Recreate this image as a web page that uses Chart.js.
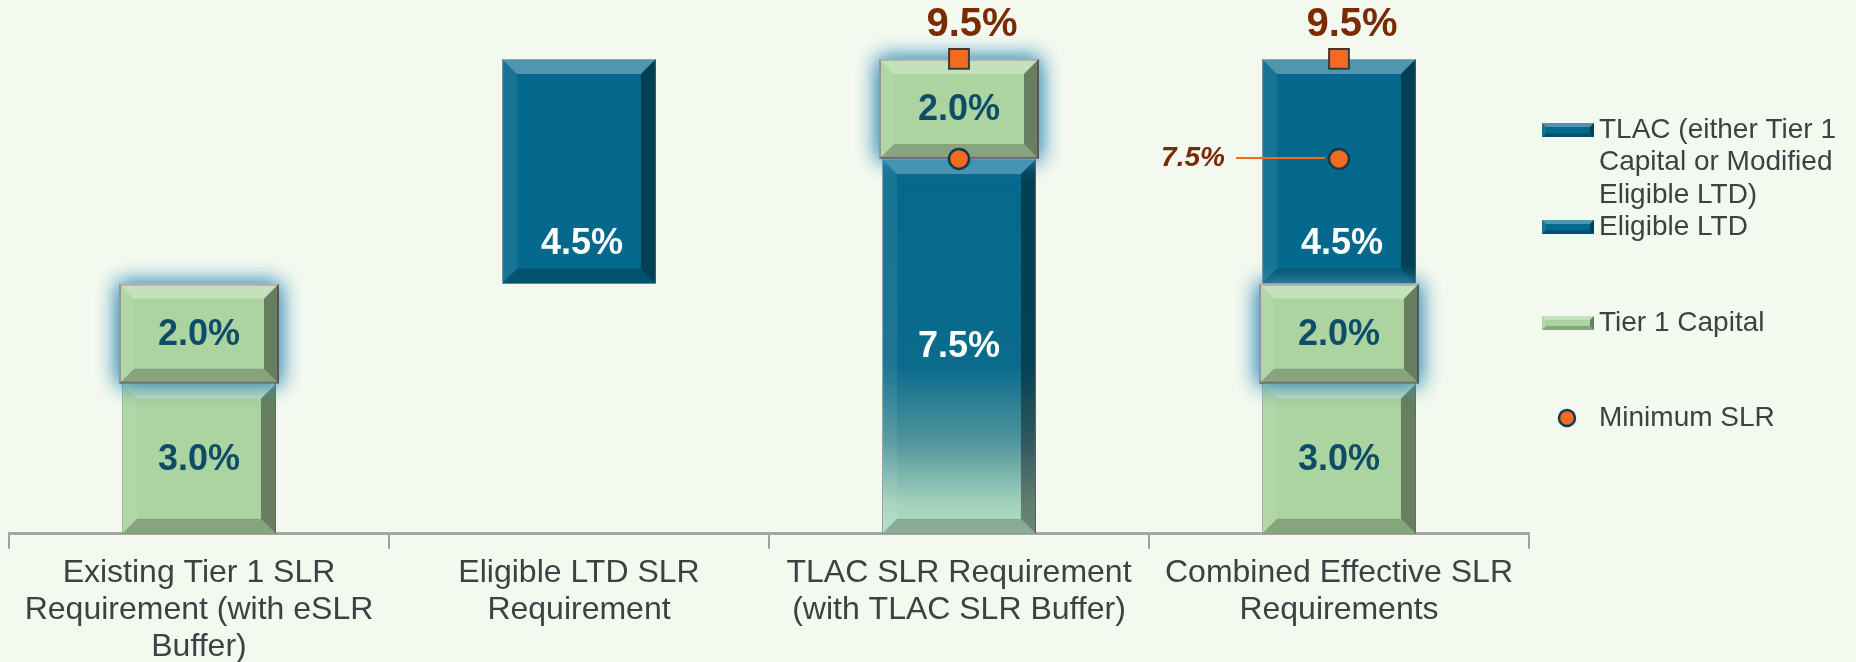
<!DOCTYPE html>
<html>
<head>
<meta charset="utf-8">
<script src="https://cdn.jsdelivr.net/npm/chart.js@4/dist/chart.umd.min.js"></script>
<style>
  html, body { margin: 0; padding: 0; background: #f4f9f0; }
  canvas { display: block; }
</style>
</head>
<body>
<canvas id="slr-chart" width="1856" height="662"></canvas>
<script>
const categories = [
    ['Existing Tier 1 SLR', 'Requirement (with eSLR', 'Buffer)'],
    ['Eligible LTD SLR', 'Requirement'],
    ['TLAC SLR Requirement', '(with TLAC SLR Buffer)'],
    ['Combined Effective SLR', 'Requirements']
]
const tier1Core = [3.0, null, null, 3.0]
const tier1Buffer = [2.0, null, 2.0, 2.0]
const tier1BufferBase = [3.0, null, 7.5, 3.0]
const eligibleLtd = [null, 4.5, null, 4.5]
const eligibleLtdBase = [null, 5.0, null, 5.0]
const tlac = [null, null, 7.5, null]
const minimumSlr = [null, null, 7.5, 7.5]
const totalSlr = [null, null, 9.5, 9.5]
const legendLabels = [
    ['TLAC (either Tier 1', 'Capital or Modified', 'Eligible LTD)'],
    ['Eligible LTD'],
    ['Tier 1 Capital'],
    ['Minimum SLR']
]

const BLUE = '#05698d'
const GREEN = '#acd4a0'
const ORANGE = '#f26b21'
const BROWN = '#7a2b02'
const TEAL_TEXT = '#0f4c68'
const GRAY_TEXT = '#3e4144'
const FONT = '"Liberation Sans", Arial, sans-serif'

function floating(values, bases){
    return values.map((v, i) => v == null ? null : [bases ? bases[i] : 0, (bases ? bases[i] : 0) + v])
}

function fmt(v){
    return v.toFixed(1) + '%'
}

function bevel(ctx, l, t, r, b, w){
    const h = Math.min(w, (b - t) / 2, (r - l) / 2)
    const sides = [
        [[l, t], [r, t], [r - h, t + h], [l + h, t + h], 'rgba(255,255,255,0.30)'],
        [[l, t], [l + h, t + h], [l + h, b - h], [l, b], 'rgba(255,255,255,0.08)'],
        [[r, t], [r, b], [r - h, b - h], [r - h, t + h], 'rgba(0,0,0,0.40)'],
        [[l, b], [l + h, b - h], [r - h, b - h], [r, b], 'rgba(0,0,0,0.22)']
    ]
    ctx.save()
    sides.forEach(s => {
        ctx.beginPath()
        ctx.moveTo(s[0][0], s[0][1])
        for (let k = 1; k < 4; k++) ctx.lineTo(s[k][0], s[k][1])
        ctx.closePath()
        ctx.fillStyle = s[4]
        ctx.fill()
    })
    ctx.restore()
}

function tlacGradient(context){
    const chart = context.chart
    const area = chart.chartArea
    if (!area) return BLUE
    const y = chart.scales.y
    const g = chart.ctx.createLinearGradient(0, y.getPixelForValue(7.5), 0, y.getPixelForValue(0))
    g.addColorStop(0, BLUE)
    g.addColorStop(0.55, '#0a6b8c')
    g.addColorStop(0.75, '#4f939c')
    g.addColorStop(0.92, '#a3d2bb')
    g.addColorStop(1, '#b6dec4')
    return g
}

const effects = {
    id: 'effects',
    beforeDatasetDraw(chart, args){
        const ds = chart.data.datasets[args.index]
        if (!ds.glow) return
        // halo behind the buffer boxes (bar drawing clips its own shadow)
        const ctx = chart.ctx
        ctx.save()
        ctx.shadowColor = 'rgba(60,145,185,0.9)'
        ctx.shadowBlur = 20
        ctx.fillStyle = GREEN
        args.meta.data.forEach((el, i) => {
            if (ds.data[i] == null) return
            const p = el.getProps(['x', 'y', 'base', 'width'], true)
            for (let k = 0; k < 2; k++){
                ctx.fillRect(p.x - p.width / 2 - 3, Math.min(p.y, p.base), p.width + 6, Math.abs(p.base - p.y))
            }
        })
        ctx.restore()
    },
    afterDatasetDraw(chart, args){
        const ds = chart.data.datasets[args.index]
        const ctx = chart.ctx
        if (ds.type == 'line') return
        args.meta.data.forEach((el, i) => {
            if (ds.data[i] == null) return
            const p = el.getProps(['x', 'y', 'base', 'width'], true)
            const grow = ds.glow ? 3 : 0
            if (grow){
                ctx.save()
                ctx.fillStyle = GREEN
                ctx.fillRect(p.x - p.width / 2 - grow, Math.min(p.y, p.base), p.width + 2 * grow, Math.abs(p.base - p.y))
                ctx.strokeStyle = '#8e8a92'
                ctx.lineWidth = 2
                ctx.strokeRect(p.x - p.width / 2 - grow + 1, Math.min(p.y, p.base) + 1, p.width + 2 * grow - 2, Math.abs(p.base - p.y) - 2)
                ctx.restore()
            }
            bevel(ctx, p.x - p.width / 2 - grow, Math.min(p.y, p.base), p.x + p.width / 2 + grow, Math.max(p.y, p.base), 15)
        })
    },
    afterDatasetsDraw(chart){
        const ctx = chart.ctx
        ctx.save()
        ctx.textAlign = 'center'
        ctx.textBaseline = 'middle'
        chart.data.datasets.forEach((ds, di) => {
            const meta = chart.getDatasetMeta(di)
            meta.data.forEach((el, i) => {
                if (ds.data[i] == null) return
                const p = el.getProps(['x', 'y', 'base'], true)
                if (ds.labelMode == 'center'){
                    ctx.font = 'bold 36px ' + FONT
                    ctx.fillStyle = ds.labelColor
                    ctx.fillText(fmt(ds.values[i]), p.x, (p.y + p.base) / 2 + 1)
                } else if (ds.labelMode == 'base'){
                    ctx.font = 'bold 36px ' + FONT
                    ctx.fillStyle = ds.labelColor
                    ctx.fillText(fmt(ds.values[i]), p.x + 3, p.base - 40)
                } else if (ds.labelMode == 'above'){
                    ctx.font = 'bold 40px ' + FONT
                    ctx.fillStyle = BROWN
                    ctx.fillText(fmt(ds.data[i]), p.x + 13, p.y - 34)
                } else if (ds.labelMode == 'leader' && i == 3){
                    ctx.strokeStyle = ORANGE
                    ctx.lineWidth = 2
                    ctx.beginPath()
                    ctx.moveTo(p.x - 103, p.y - 1)
                    ctx.lineTo(p.x - 14, p.y - 1)
                    ctx.stroke()
                    ctx.font = 'italic bold 28px ' + FONT
                    ctx.fillStyle = BROWN
                    ctx.fillText(fmt(ds.data[i]), p.x - 146, p.y - 1)
                }
            })
        })
        ctx.restore()
    },
    afterDraw(chart){
        const ctx = chart.ctx
        const sx = 1542, tx = 1599
        const rows = [
            {y: 130, color: BLUE, lines: legendLabels[0]},
            {y: 227, color: BLUE, lines: legendLabels[1]},
            {y: 323, color: GREEN, lines: legendLabels[2]},
            {y: 418, dot: true, lines: legendLabels[3]}
        ]
        ctx.save()
        ctx.font = '28px ' + FONT
        ctx.textBaseline = 'middle'
        ctx.textAlign = 'left'
        rows.forEach(r => {
            if (r.dot){
                ctx.beginPath()
                ctx.arc(sx + 25, r.y, 8, 0, Math.PI * 2)
                ctx.fillStyle = ORANGE
                ctx.fill()
                ctx.lineWidth = 2.5
                ctx.strokeStyle = '#163a4a'
                ctx.stroke()
            } else {
                ctx.fillStyle = r.color
                ctx.fillRect(sx, r.y - 7, 52, 14)
                bevel(ctx, sx, r.y - 7, sx + 52, r.y + 7, 4)
            }
            ctx.fillStyle = GRAY_TEXT
            r.lines.forEach((line, k) => ctx.fillText(line, tx, r.y + k * 32.5))
        })
        ctx.restore()
    }
}

const datasets = [
    {
        type: 'line', label: 'Total SLR', data: totalSlr, order: 0,
        showLine: false, pointStyle: 'rect', pointRadius: 14, pointHoverRadius: 14,
        pointBackgroundColor: ORANGE, pointBorderColor: '#3a3a3a', pointBorderWidth: 2,
        labelMode: 'above'
    },
    {
        type: 'line', label: 'Minimum SLR', data: minimumSlr, order: 0,
        showLine: false, pointStyle: 'circle', pointRadius: 10, pointHoverRadius: 10,
        pointBackgroundColor: ORANGE, pointBorderColor: '#163a4a', pointBorderWidth: 2.5,
        labelMode: 'leader'
    },
    {
        label: 'Tier 1 Capital buffer', data: floating(tier1Buffer, tier1BufferBase), values: tier1Buffer,
        order: 1, backgroundColor: GREEN, borderColor: '#8e8a92', borderWidth: 2,
        glow: true, labelMode: 'center', labelColor: TEAL_TEXT
    },
    {
        label: 'Tier 1 Capital', data: floating(tier1Core), values: tier1Core,
        order: 2, backgroundColor: GREEN, borderColor: '#8fa58c', borderWidth: 1,
        labelMode: 'center', labelColor: TEAL_TEXT
    },
    {
        label: 'Eligible LTD', data: floating(eligibleLtd, eligibleLtdBase), values: eligibleLtd,
        order: 2, backgroundColor: BLUE, borderColor: '#5f7f88', borderWidth: 1,
        labelMode: 'base', labelColor: '#ffffff'
    },
    {
        label: 'TLAC (either Tier 1 Capital or Modified Eligible LTD)', data: floating(tlac), values: tlac,
        order: 2, backgroundColor: tlacGradient, borderColor: '#7f8f90', borderWidth: 1,
        labelMode: 'center', labelColor: '#ffffff'
    }
]

const ctx = document.getElementById('slr-chart').getContext('2d')
const slrChart = new Chart(ctx, {
    type: 'bar',
    data: {
        labels: categories,
        datasets: datasets
    },
    options: {
        responsive: false,
        animation: false,
        devicePixelRatio: 1,
        barPercentage: 0.405,
        categoryPercentage: 1,
        layout: {
            autoPadding: false,
            padding: { left: 9, right: 327, top: 4, bottom: 0 }
        },
        plugins: {
            legend: { display: false },
            tooltip: { enabled: false }
        },
        scales: {
            x: {
                stacked: true,
                afterFit(scale){
                    scale.height -= 10
                },
                grid: {
                    offset: true,
                    drawOnChartArea: false,
                    tickLength: 15,
                    color: '#a0a0a0',
                    lineWidth: 2
                },
                border: { color: '#a6a6a6', width: 3 },
                ticks: {
                    color: GRAY_TEXT,
                    padding: 6,
                    maxRotation: 0,
                    autoSkip: false,
                    font: { family: FONT, size: 32, lineHeight: 1.16 }
                }
            },
            y: {
                display: false,
                stacked: false,
                min: 0,
                max: 10.6
            }
        }
    },
    plugins: [effects]
});
</script>
</body>
</html>
